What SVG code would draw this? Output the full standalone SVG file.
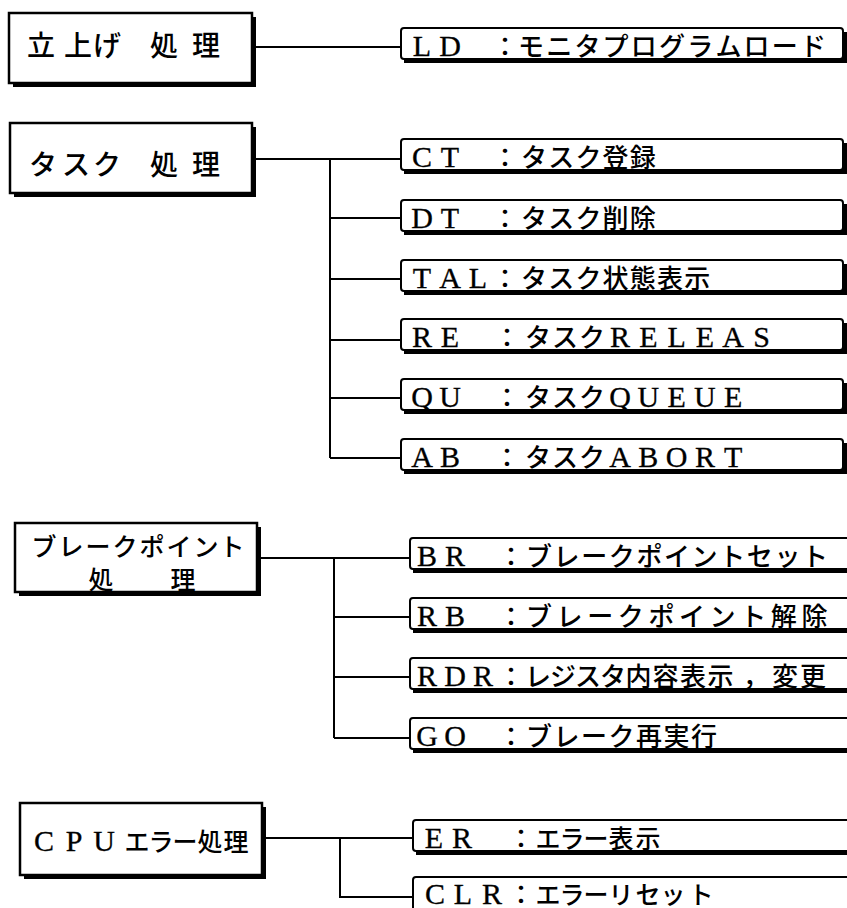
<svg xmlns="http://www.w3.org/2000/svg" width="847" height="908" viewBox="0 0 847 908">
<style>
.bg{fill:#fff}
.mb{fill:#fff;stroke:#000;stroke-width:2.5}
.sb{fill:#fff;stroke:#000;stroke-width:2}
.sh{fill:#000}
.cn{fill:none;stroke:#000;stroke-width:2}
text{fill:#000;text-anchor:middle}
.jp{font-family:"Noto Sans CJK JP","Noto Sans",sans-serif;font-size:26px;font-weight:500}
.jb{font-family:"Noto Sans CJK JP","Noto Sans",sans-serif;font-size:28px;font-weight:500}
.jm{font-family:"Noto Sans CJK JP","Noto Sans",sans-serif;font-size:25px;font-weight:500}
.lat{font-family:"Liberation Serif",serif;font-size:30px;stroke:#000;stroke-width:0.3}
</style>
<rect class="bg" x="0" y="0" width="847" height="908"/>

<g id="connectors">
<path class="cn" d="M252 47H401"/>
<path class="cn" d="M252 159H401M330 159V458M330 218H401M330 279H401M330 340H401M330 398H401M330 458H401"/>
<path class="cn" d="M257 558H410M334 558V738M334 617H410M334 677H410M334 738H410"/>
<path class="cn" d="M262 838H413M340 838V897H413"/>
</g>

<g id="n-startup">
<rect class="sh" x="13" y="17" width="243" height="70"/>
<rect class="mb" x="9" y="13" width="243" height="70"/>
<text class="jb" y="56" x="41 78 107 164 206">立上げ処理</text>
</g>

<g id="n-task">
<rect class="sh" x="14" y="127" width="242" height="70"/>
<rect class="mb" x="10" y="123" width="242" height="70"/>
<text class="jb" y="175" x="43 76 107 164 206">タスク処理</text>
</g>

<g id="n-break">
<rect class="sh" x="19" y="527" width="242" height="69"/>
<rect class="mb" x="15" y="523" width="242" height="69"/>
<text class="jm" y="556" x="44 71 98 125 152 179 206 232">ブレークポイント</text>
<text class="jm" y="589" x="101 183">処理</text>
</g>

<g id="n-cpu">
<rect class="sh" x="24" y="807" width="242" height="72"/>
<rect class="mb" x="20" y="803" width="242" height="72"/>
<text y="851"><tspan class="lat" x="44 74 104">CPU</tspan><tspan class="jm" x="137 161 185 210 236">エラー処理</tspan></text>
</g>

<g id="n-ld">
<rect class="sh" x="404" y="32" width="443" height="31"/>
<rect class="sb" x="401" y="28" width="442" height="31" rx="3"/>
<text y="56"><tspan class="lat" x="422 450">LD</tspan><tspan class="jp" x="505">：</tspan><tspan class="jp" x="531 559.2 587.4 615.6 643.8 672 700.2 728.4 756.6 784.8 813">モニタプログラムロード</tspan></text>
</g>

<g id="n-ct">
<rect class="sh" x="404" y="143" width="443" height="31"/>
<rect class="sb" x="401" y="139" width="442" height="31" rx="3"/>
<text y="167"><tspan class="lat" x="422 450">CT</tspan><tspan class="jp" x="505">：</tspan><tspan class="jp" x="534 561.2 588.4 615.6 642.8">タスク登録</tspan></text>
</g>

<g id="n-dt">
<rect class="sh" x="404" y="204" width="443" height="31"/>
<rect class="sb" x="401" y="200" width="442" height="31" rx="3"/>
<text y="228"><tspan class="lat" x="422 450">DT</tspan><tspan class="jp" x="505">：</tspan><tspan class="jp" x="534 561.2 588.4 615.6 642.8">タスク削除</tspan></text>
</g>

<g id="n-tal">
<rect class="sh" x="404" y="264" width="443" height="31"/>
<rect class="sb" x="401" y="260" width="442" height="31" rx="3"/>
<text y="288"><tspan class="lat" x="422 450 478">TAL</tspan><tspan class="jp" x="505">：</tspan><tspan class="jp" x="534 561.2 588.4 615.6 642.8 670 697.2">タスク状態表示</tspan></text>
</g>

<g id="n-re">
<rect class="sh" x="404" y="323" width="443" height="31"/>
<rect class="sb" x="401" y="319" width="442" height="31" rx="3"/>
<text y="347"><tspan class="lat" x="422 450">RE</tspan><tspan class="jp" x="507">：</tspan><tspan class="jp" x="538 565 592">タスク</tspan><tspan class="lat" x="620 648.3 676.6 704.9 733.2 761.5">RELEAS</tspan></text>
</g>

<g id="n-qu">
<rect class="sh" x="404" y="383" width="443" height="31"/>
<rect class="sb" x="401" y="379" width="442" height="31" rx="3"/>
<text y="407"><tspan class="lat" x="422 450">QU</tspan><tspan class="jp" x="507">：</tspan><tspan class="jp" x="538 565 592">タスク</tspan><tspan class="lat" x="620 648.3 676.6 704.9 733.2">QUEUE</tspan></text>
</g>

<g id="n-ab">
<rect class="sh" x="404" y="443" width="443" height="31"/>
<rect class="sb" x="401" y="439" width="442" height="31" rx="3"/>
<text y="467"><tspan class="lat" x="422 450">AB</tspan><tspan class="jp" x="507">：</tspan><tspan class="jp" x="538 565 592">タスク</tspan><tspan class="lat" x="620 648.3 676.6 704.9 733.2">ABORT</tspan></text>
</g>

<g id="n-br">
<rect class="sh" x="413" y="542" width="450" height="31"/>
<rect class="sb" x="410" y="538" width="450" height="31" rx="3"/>
<text y="566"><tspan class="lat" x="427 455">BR</tspan><tspan class="jp" x="511">：</tspan><tspan class="jp" x="539 566.6 594.2 621.8 649.4 677 704.6 732.2 759.8 787.4 815">ブレークポイントセット</tspan></text>
</g>

<g id="n-rb">
<rect class="sh" x="413" y="602" width="450" height="31"/>
<rect class="sb" x="410" y="598" width="450" height="31" rx="3"/>
<text y="626"><tspan class="lat" x="427 455">RB</tspan><tspan class="jp" x="511">：</tspan><tspan class="jp" x="539 569.6 600.2 630.8 661.4 692 722.6 753.2 783.8 814.4">ブレークポイント解除</tspan></text>
</g>

<g id="n-rdr">
<rect class="sh" x="413" y="662" width="450" height="31"/>
<rect class="sb" x="410" y="658" width="450" height="31" rx="3"/>
<text y="686"><tspan class="lat" x="427 455 483">RDR</tspan><tspan class="jp" x="511">：</tspan><tspan class="jp" x="538 563 588 613 638.5 665.5 693 720.5 756 785 813">レジスタ内容表示，変更</tspan></text>
</g>

<g id="n-go">
<rect class="sh" x="413" y="722" width="450" height="31"/>
<rect class="sb" x="410" y="718" width="450" height="31" rx="3"/>
<text y="746"><tspan class="lat" x="427 455">GO</tspan><tspan class="jp" x="511">：</tspan><tspan class="jp" x="539 566.5 594 621.5 649 676.5 704">ブレーク再実行</tspan></text>
</g>

<g id="n-er">
<rect class="sh" x="416" y="824" width="450" height="31"/>
<rect class="sb" x="413" y="820" width="450" height="31" rx="3"/>
<text y="848"><tspan class="lat" x="434 462">ER</tspan><tspan class="jp" x="521">：</tspan><tspan class="jm" x="548 572 596 621 648">エラー表示</tspan></text>
</g>

<g id="n-clr">
<rect class="sh" x="416" y="881" width="450" height="40"/>
<rect class="sb" x="413" y="877" width="450" height="40" rx="3"/>
<text y="904"><tspan class="lat" x="435 463 492">CLR</tspan><tspan class="jp" x="521">：</tspan><tspan class="jm" x="548 572 596 621 648 673 701">エラーリセット</tspan></text>
</g>
</svg>
